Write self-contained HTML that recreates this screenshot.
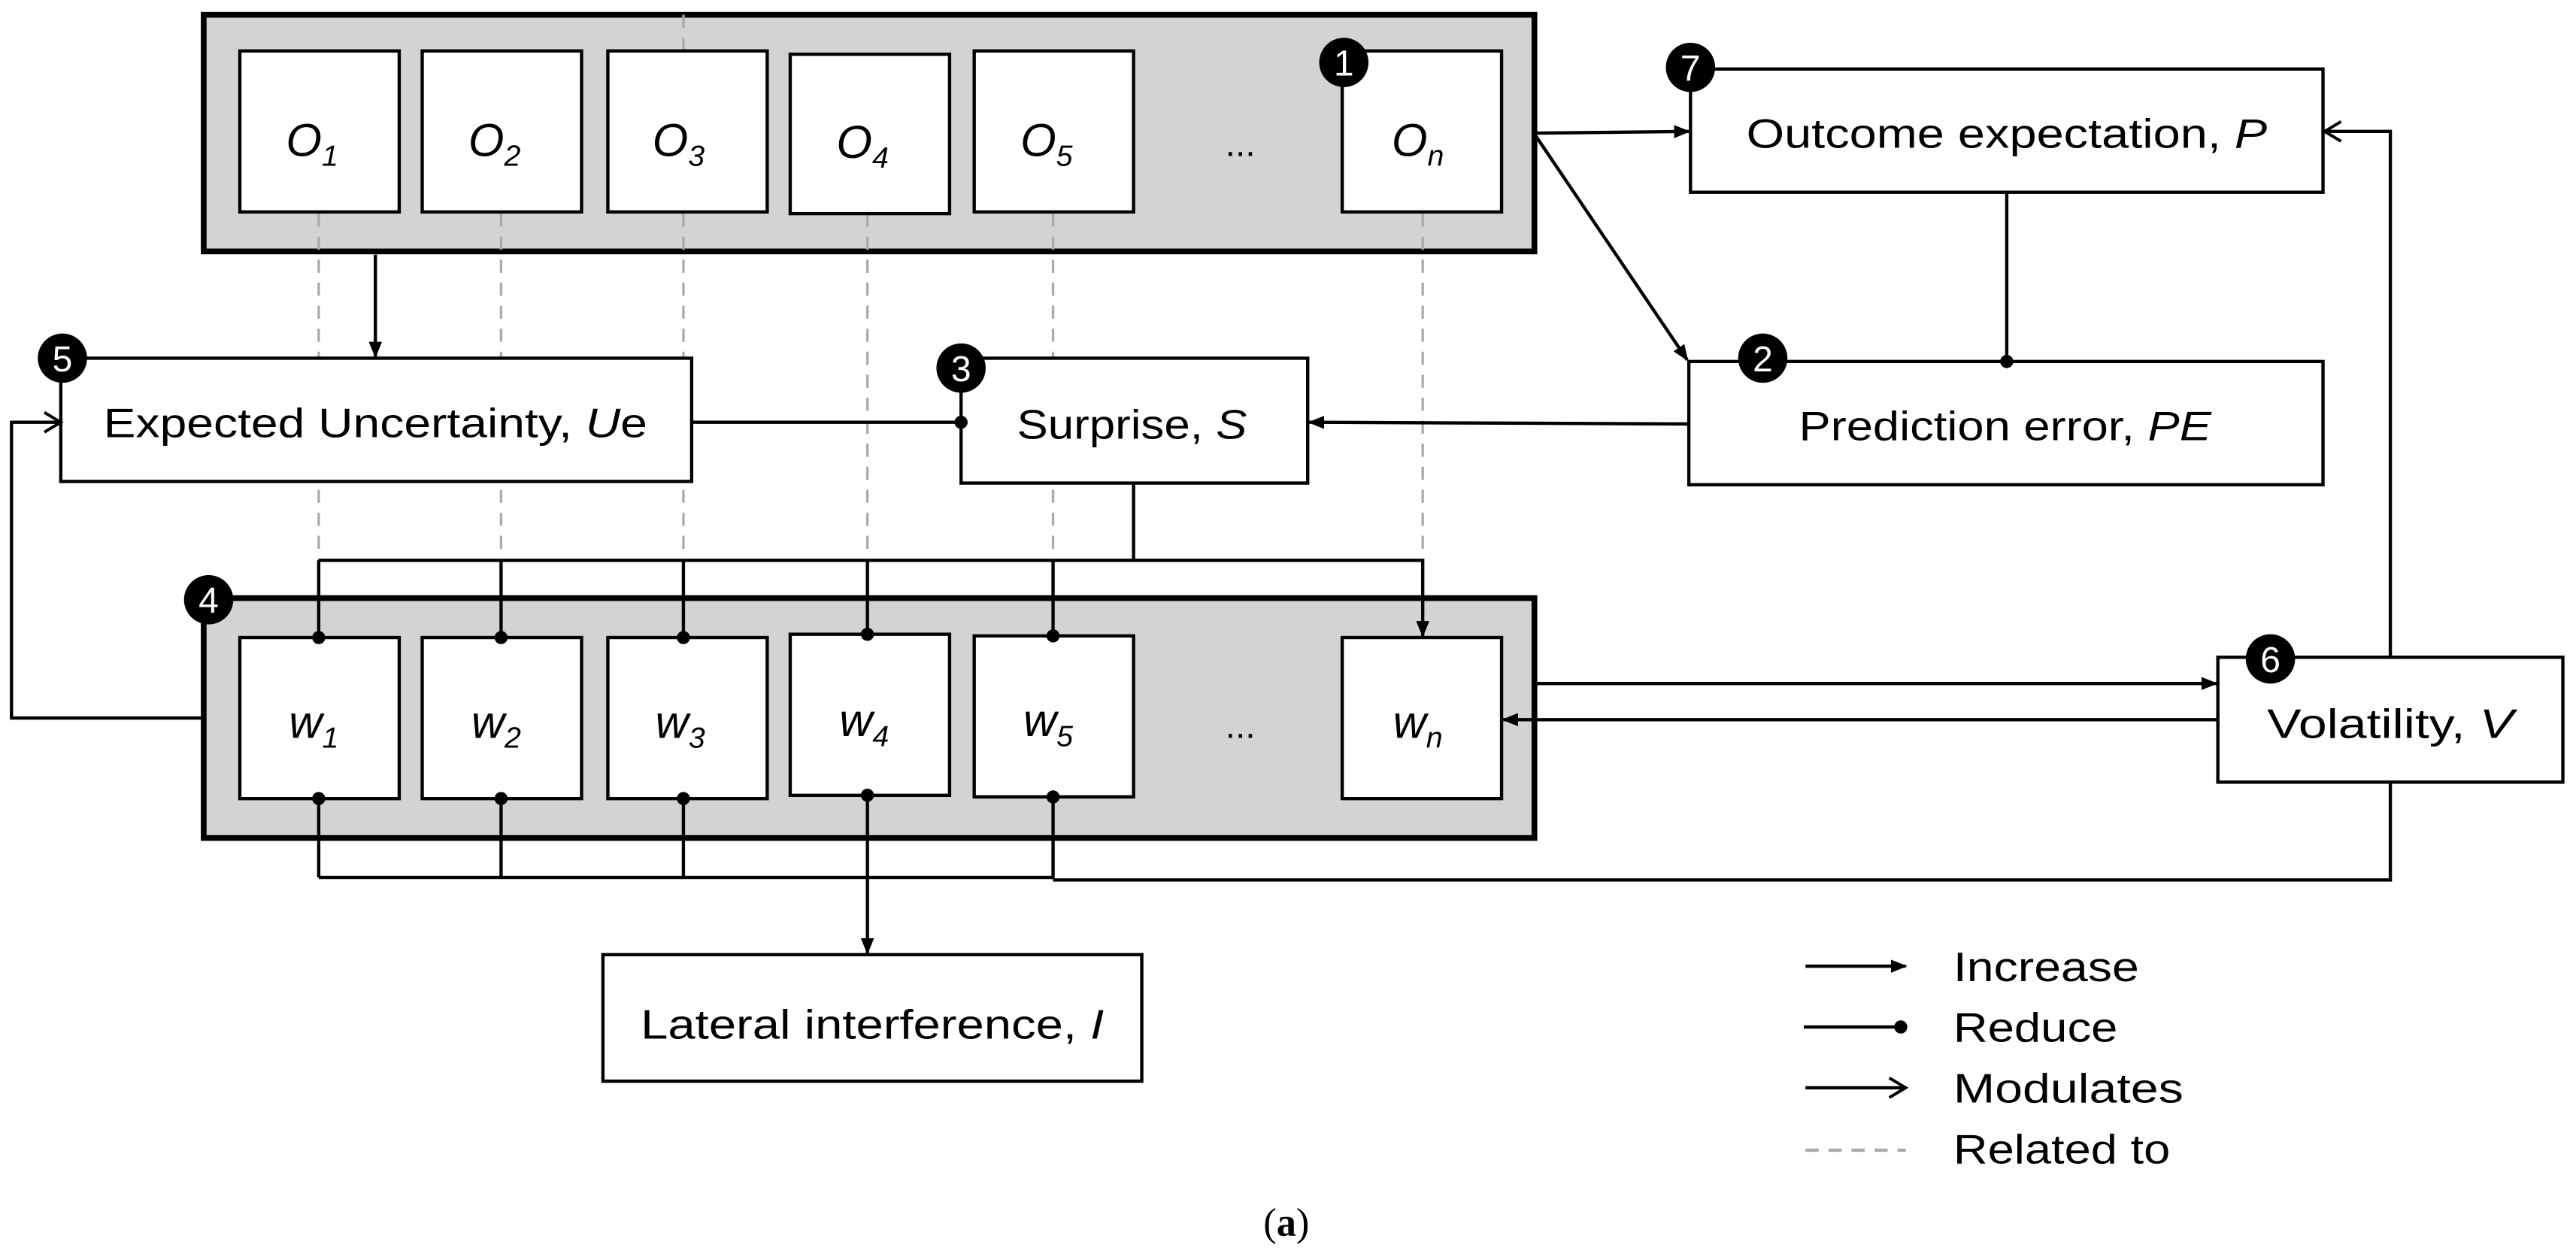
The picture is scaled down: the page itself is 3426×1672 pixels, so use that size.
<!DOCTYPE html>
<html><head><meta charset="utf-8"><style>
html,body{margin:0;padding:0;background:#fff;}
svg{display:block;}
text{font-family:"Liberation Sans Narrow","Liberation Sans",sans-serif;fill:#000;}
text.bd{fill:#fff !important;}
</style></head><body>
<svg xmlns="http://www.w3.org/2000/svg" width="3426" height="1672" viewBox="0 0 1568 765" preserveAspectRatio="none">
<defs>
<marker id="ar" markerWidth="10" markerHeight="10" refX="9" refY="5" orient="auto" markerUnits="userSpaceOnUse"><path d="M0,1 L10,5 L0,9 Z" fill="#000"/></marker>
<marker id="dt" markerWidth="10" markerHeight="10" refX="5" refY="5" orient="auto" markerUnits="userSpaceOnUse"><circle cx="5" cy="5" r="4" fill="#000"/></marker>
<marker id="op" markerWidth="14" markerHeight="14" refX="12" refY="7" orient="auto" markerUnits="userSpaceOnUse"><path d="M2,1 L12,7 L2,13" fill="none" stroke="#000" stroke-width="1.8"/></marker>
</defs>
<rect width="1568" height="765" fill="#fff"/>

<rect x="124" y="9" width="810" height="144" fill="#d3d3d3" stroke="#000" stroke-width="3.5"/>
<rect x="124" y="364" width="810" height="146" fill="#d3d3d3" stroke="#000" stroke-width="3.5"/>

<g stroke="#aaa" stroke-width="1.5" stroke-dasharray="8,6" fill="none">
<line x1="194" y1="130" x2="194" y2="364"/>
<line x1="305" y1="130" x2="305" y2="364"/>
<line x1="416" y1="130" x2="416" y2="364"/>
<line x1="416" y1="9" x2="416" y2="31"/>
<line x1="528" y1="130" x2="528" y2="364"/>
<line x1="641" y1="130" x2="641" y2="364"/>
<line x1="866" y1="130" x2="866" y2="341"/>
</g>

<g fill="#fff" stroke="#000" stroke-width="2">
<rect x="146" y="31" width="97" height="98"/>
<rect x="257" y="31" width="97" height="98"/>
<rect x="370" y="31" width="97" height="98"/>
<rect x="481" y="33" width="97" height="97"/>
<rect x="593" y="31" width="97" height="98"/>
<rect x="817" y="31" width="97" height="98"/>
</g>
<g font-size="28" font-style="italic" text-anchor="middle">
<text x="190" y="95">O<tspan font-size="18" dy="6">1</tspan></text>
<text x="301" y="95">O<tspan font-size="18" dy="6">2</tspan></text>
<text x="413" y="95">O<tspan font-size="18" dy="6">3</tspan></text>
<text x="525" y="96">O<tspan font-size="18" dy="6">4</tspan></text>
<text x="637" y="95">O<tspan font-size="18" dy="6">5</tspan></text>
<text x="863" y="95">O<tspan font-size="18" dy="6">n</tspan></text>
</g>
<text x="755" y="95" font-size="22" text-anchor="middle">...</text>

<g fill="#fff" stroke="#000" stroke-width="2">
<rect x="146" y="388" width="97" height="98"/>
<rect x="257" y="388" width="97" height="98"/>
<rect x="370" y="388" width="97" height="98"/>
<rect x="481" y="386" width="97" height="98"/>
<rect x="593" y="387" width="97" height="98"/>
<rect x="817" y="388" width="97" height="98"/>
</g>
<g font-size="28" font-style="italic" text-anchor="middle">
<text x="191" y="449">w<tspan font-size="18" dy="6">1</tspan></text>
<text x="302" y="449">w<tspan font-size="18" dy="6">2</tspan></text>
<text x="414" y="449">w<tspan font-size="18" dy="6">3</tspan></text>
<text x="526" y="448">w<tspan font-size="18" dy="6">4</tspan></text>
<text x="638" y="448">w<tspan font-size="18" dy="6">5</tspan></text>
<text x="863" y="449">w<tspan font-size="18" dy="6">n</tspan></text>
</g>
<text x="755" y="449" font-size="22" text-anchor="middle">...</text>

<g fill="#fff" stroke="#000" stroke-width="2">
<rect x="37" y="218" width="384" height="75"/>
<rect x="585" y="218" width="211" height="76"/>
<rect x="1029" y="42" width="385" height="75"/>
<rect x="1028" y="220" width="386" height="75"/>
<rect x="1350" y="400" width="210" height="76"/>
<rect x="367" y="581" width="328" height="77"/>
</g>
<g font-size="25">
<text x="63" y="266" textLength="331" lengthAdjust="spacingAndGlyphs">Expected Uncertainty, <tspan font-style="italic">U</tspan>e</text>
<text x="619" y="267" textLength="140" lengthAdjust="spacingAndGlyphs">Surprise, <tspan font-style="italic">S</tspan></text>
<text x="1063" y="90" textLength="317" lengthAdjust="spacingAndGlyphs">Outcome expectation, <tspan font-style="italic">P</tspan></text>
<text x="1095" y="268" textLength="251" lengthAdjust="spacingAndGlyphs">Prediction error, <tspan font-style="italic">PE</tspan></text>
<text x="1380" y="449" textLength="150" lengthAdjust="spacingAndGlyphs">Volatility, <tspan font-style="italic">V</tspan></text>
<text x="390" y="632" textLength="282" lengthAdjust="spacingAndGlyphs">Lateral interference, <tspan font-style="italic">I</tspan></text>
</g>

<g stroke="#000" stroke-width="2" fill="none">
<line x1="228.5" y1="155" x2="228.5" y2="217" marker-end="url(#ar)"/>
<line x1="421" y1="257" x2="585" y2="257" marker-end="url(#dt)"/>
<line x1="1028" y1="258" x2="797" y2="257" marker-end="url(#ar)"/>
<line x1="935" y1="81" x2="1028" y2="80" marker-end="url(#ar)"/>
<line x1="935" y1="83" x2="1027" y2="219" marker-end="url(#ar)"/>
<line x1="1221.5" y1="117" x2="1221.5" y2="220" marker-end="url(#dt)"/>
<polyline points="690,294 690,341 194,341"/>
<polyline points="690,341 866,341 866,387" marker-end="url(#ar)"/>
<line x1="194" y1="341" x2="194" y2="388" marker-end="url(#dt)"/>
<line x1="305" y1="341" x2="305" y2="388" marker-end="url(#dt)"/>
<line x1="416" y1="341" x2="416" y2="388" marker-end="url(#dt)"/>
<line x1="528" y1="341" x2="528" y2="386" marker-end="url(#dt)"/>
<line x1="641" y1="341" x2="641" y2="387" marker-end="url(#dt)"/>
<line x1="194" y1="534" x2="194" y2="486" marker-end="url(#dt)"/>
<line x1="305" y1="534" x2="305" y2="486" marker-end="url(#dt)"/>
<line x1="416" y1="534" x2="416" y2="486" marker-end="url(#dt)"/>
<line x1="528" y1="534" x2="528" y2="484" marker-end="url(#dt)"/>
<line x1="641" y1="535" x2="641" y2="485" marker-end="url(#dt)"/>
<line x1="194" y1="534" x2="641" y2="534"/>
<polyline points="641,535.5 1455,535.5 1455,476"/>
<line x1="528" y1="534" x2="528" y2="580" marker-end="url(#ar)"/>
<line x1="935" y1="416" x2="1349" y2="416" marker-end="url(#ar)"/>
<line x1="1350" y1="438" x2="915" y2="438" marker-end="url(#ar)"/>
<polyline points="1455,400 1455,80 1415,80" marker-end="url(#op)"/>
<polyline points="124,437 7,437 7,257 37,257" marker-end="url(#op)"/>
</g>

<g fill="#000">
<circle cx="818" cy="38" r="15"/>
<circle cx="1029" cy="41" r="15"/>
<circle cx="1073" cy="218" r="15"/>
<circle cx="585" cy="224" r="15"/>
<circle cx="38" cy="218" r="15"/>
<circle cx="127" cy="365" r="15"/>
<circle cx="1382" cy="401" r="15"/>
</g>
<g font-size="22" text-anchor="middle">
<text class="bd" x="818" y="46">1</text>
<text class="bd" x="1029" y="49">7</text>
<text class="bd" x="1073" y="226">2</text>
<text class="bd" x="585" y="232">3</text>
<text class="bd" x="38" y="226">5</text>
<text class="bd" x="127" y="373">4</text>
<text class="bd" x="1382" y="409">6</text>
</g>

<g stroke="#000" stroke-width="2" fill="none">
<line x1="1099" y1="588" x2="1160" y2="588" marker-end="url(#ar)"/>
<line x1="1098" y1="625" x2="1157" y2="625" marker-end="url(#dt)"/>
<line x1="1099" y1="662" x2="1160" y2="662" marker-end="url(#op)"/>
<line x1="1099" y1="700" x2="1160" y2="700" stroke="#aaa" stroke-dasharray="8,6"/>
</g>
<g font-size="25">
<text x="1189" y="597" textLength="113" lengthAdjust="spacingAndGlyphs">Increase</text>
<text x="1189" y="634" textLength="100" lengthAdjust="spacingAndGlyphs">Reduce</text>
<text x="1189" y="671" textLength="140" lengthAdjust="spacingAndGlyphs">Modulates</text>
<text x="1189" y="708" textLength="132" lengthAdjust="spacingAndGlyphs">Related to</text>
</g>

<text x="783" y="752" font-size="24" text-anchor="middle" style="font-family:'Liberation Serif',serif">(<tspan font-weight="bold">a</tspan>)</text>
</svg>
</body></html>
